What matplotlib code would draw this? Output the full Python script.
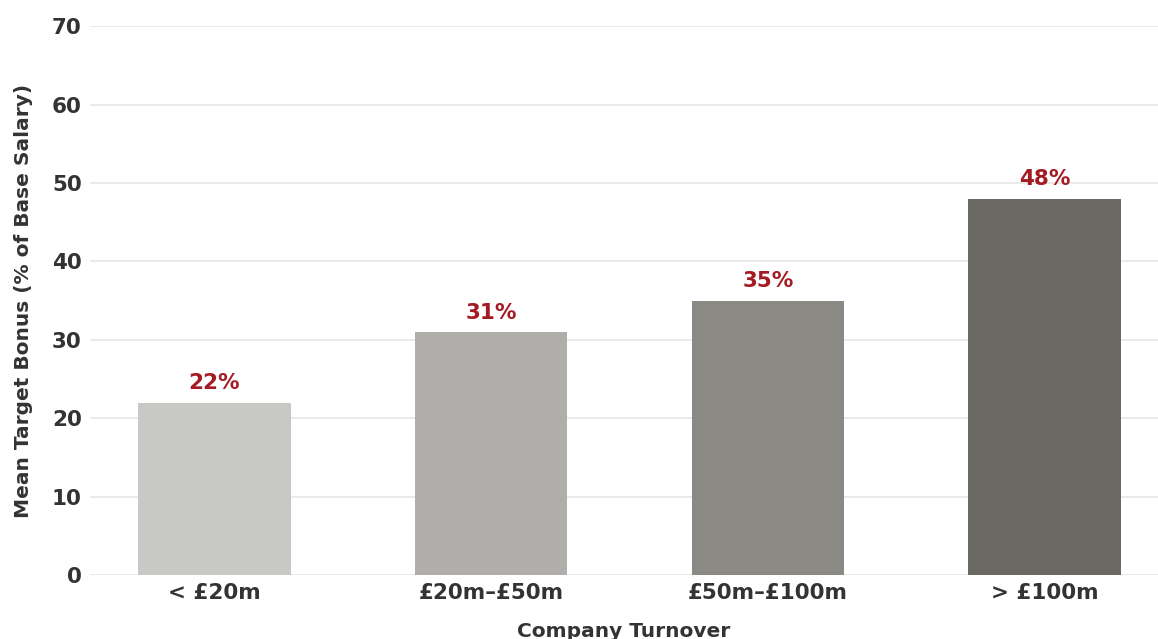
import numpy as np
import matplotlib.pyplot as plt

# Chart data
categories = ['< £20m', '£20m–£50m', '£50m–£100m', '> £100m']
bonus = [22, 31, 35, 48]
colors = ['#c8c8c4', '#afaeaa', '#8a8984', '#6a6964']

plt.rcParams['font.family'] = ['DejaVu Sans']

fig = plt.figure(figsize=(11.58, 6.39), dpi=100)
ax = fig.add_axes([0.0777, 0.1, 0.9223, 0.859])

x = np.arange(len(categories))
ax.bar(x, bonus, width=0.55, color=colors, zorder=2)

for xi, v in zip(x, bonus):
    ax.text(xi, v + 1.2, f'{v}%', ha='center', va='bottom',
            fontsize=15.5, fontweight='bold', color='#a51b24')

ax.set_ylim(0, 70)
ax.set_xlim(-0.45, 3.41)
ax.set_yticks(range(0, 71, 10))
ax.set_xticks(x)
ax.set_xticklabels(categories)
ax.tick_params(axis='both', length=0, labelsize=15.5, labelcolor='#333333')
for lbl in ax.get_xticklabels() + ax.get_yticklabels():
    lbl.set_fontweight('bold')
ax.tick_params(axis='y', pad=6)
ax.tick_params(axis='x', pad=6)

ax.grid(axis='y', color='#e6e6e6', linewidth=1.2, zorder=0)
for s in ax.spines.values():
    s.set_visible(False)

ax.set_xlabel('Company Turnover', fontsize=14.5, fontweight='bold', color='#333333')
ax.set_ylabel('Mean Target Bonus (% of Base Salary)', fontsize=14.5, fontweight='bold',
              color='#333333')
ax.xaxis.set_label_coords(0.5, -0.086)
ax.yaxis.set_label_coords(-0.053, 0.5)

fig.savefig('out.png', dpi=100)
